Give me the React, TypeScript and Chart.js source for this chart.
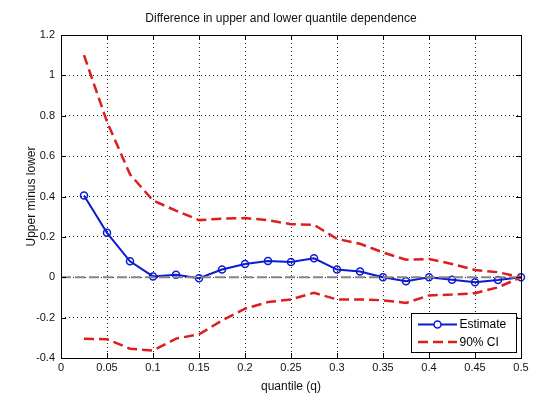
import React, { useEffect, useRef } from "react";
import { Chart, registerables } from "chart.js";

Chart.register(...registerables);

const chartTitle = "Difference in upper and lower quantile dependence";
const xAxisLabel = "quantile (q)";
const yAxisLabel = "Upper minus lower";

const quantiles = [
  0.025, 0.05, 0.075, 0.1, 0.125, 0.15, 0.175, 0.2, 0.225, 0.25,
  0.275, 0.3, 0.325, 0.35, 0.375, 0.4, 0.425, 0.45, 0.475, 0.5,
];
const estimate = [
  0.405, 0.22, 0.079, 0.004, 0.012, -0.005, 0.038, 0.066, 0.081, 0.076,
  0.094, 0.038, 0.028, 0.0, -0.02, 0.0, -0.012, -0.025, -0.014, 0.0,
];
const ciUpper = [
  1.1, 0.77, 0.51, 0.38, 0.33, 0.283, 0.29, 0.293, 0.283, 0.263,
  0.26, 0.19, 0.166, 0.123, 0.087, 0.09, 0.066, 0.036, 0.025, 0.0,
];
const ciLower = [
  -0.305, -0.307, -0.354, -0.363, -0.304, -0.283, -0.214, -0.156, -0.123, -0.11,
  -0.077, -0.11, -0.11, -0.114, -0.127, -0.09, -0.086, -0.079, -0.05, 0.0,
];
const zeroLineX = [0, 0.5];
const zeroLineY = [0, 0];

const xTickValues = [0, 0.05, 0.1, 0.15, 0.2, 0.25, 0.3, 0.35, 0.4, 0.45, 0.5];
const yTickValues = [-0.4, -0.2, 0, 0.2, 0.4, 0.6, 0.8, 1, 1.2];
const legendLabels = ["Estimate", "90% CI"];

const FONT = "'Liberation Sans', Arial, Helvetica, sans-serif";
const BLUE = "#0c1ad2";
const RED = "#dc1e1e";
const GRAY = "#858585";

const pts = (xs: number[], ys: number[]) => xs.map((x, i) => ({ x, y: ys[i] }));

const framePlugin = {
  id: "matlabFrame",
  afterDatasetsDraw(chart: any) {
    const { ctx, chartArea: a, scales } = chart;
    ctx.save();
    ctx.strokeStyle = "#000";
    ctx.lineWidth = 1;
    ctx.setLineDash([]);
    ctx.strokeRect(Math.round(a.left) + 0.5, Math.round(a.top) + 0.5, Math.round(a.right - a.left), Math.round(a.bottom - a.top));
    const tl = 5;
    ctx.beginPath();
    for (const v of xTickValues) {
      const px = Math.round(scales.x.getPixelForValue(v)) + 0.5;
      ctx.moveTo(px, a.bottom);
      ctx.lineTo(px, a.bottom - tl);
      ctx.moveTo(px, a.top);
      ctx.lineTo(px, a.top + tl);
    }
    for (const v of yTickValues) {
      const py = Math.round(scales.y.getPixelForValue(v)) + 0.5;
      ctx.moveTo(a.left, py);
      ctx.lineTo(a.left + tl, py);
      ctx.moveTo(a.right, py);
      ctx.lineTo(a.right - tl, py);
    }
    ctx.stroke();
    ctx.restore();
  },
  afterDraw(chart: any) {
    const { ctx, chartArea: a } = chart;
    ctx.save();
    // title, centred over the axes like MATLAB
    ctx.fillStyle = "#111";
    ctx.font = `12px ${FONT}`;
    ctx.textAlign = "center";
    ctx.textBaseline = "middle";
    ctx.fillText(chartTitle, (a.left + a.right) / 2 - 10, 19);

    const items = legendLabels
      .map((l) => chart.data.datasets.find((d: any) => d.label === l))
      .filter(Boolean);
    const rowH = 17.5;
    const boxW = 105;
    const boxH = 39;
    const bx = Math.round(a.right) - 4.5 - boxW;
    const by = Math.round(a.bottom) - 5.5 - boxH;
    ctx.fillStyle = "#fff";
    ctx.fillRect(bx, by, boxW, boxH);
    ctx.strokeStyle = "#000";
    ctx.lineWidth = 1;
    ctx.setLineDash([]);
    ctx.strokeRect(bx, by, boxW, boxH);
    items.forEach((d: any, i: number) => {
      const cy = by + 11 + i * rowH;
      const x0 = bx + 6.5;
      const x1 = bx + 45.5;
      ctx.strokeStyle = d.borderColor;
      ctx.lineWidth = d.borderWidth;
      ctx.setLineDash(d.borderDash || []);
      ctx.beginPath();
      ctx.moveTo(x0, cy);
      ctx.lineTo(x1, cy);
      ctx.stroke();
      ctx.setLineDash([]);
      if (d.pointRadius > 0) {
        ctx.lineWidth = d.pointBorderWidth;
        ctx.beginPath();
        ctx.arc((x0 + x1) / 2, cy, d.pointRadius, 0, Math.PI * 2);
        ctx.fillStyle = "#fff";
        ctx.fill();
        ctx.stroke();
      }
      ctx.fillStyle = "#000";
      ctx.font = `12px ${FONT}`;
      ctx.textBaseline = "middle";
      ctx.textAlign = "left";
      ctx.fillText(d.label, x1 + 2.5, cy + 0.5);
    });
    ctx.restore();
  },
};

export default function App() {
  const ref = useRef<HTMLCanvasElement | null>(null);

  useEffect(() => {
    if (!ref.current) return;
    const chart = new Chart(ref.current, {
      type: "line",
      data: {
        datasets: [
          {
            label: "",
            data: pts(zeroLineX, zeroLineY),
            borderColor: GRAY,
            borderWidth: 2,
            borderDash: [10, 4],
            pointRadius: 0,
            tension: 0,
          },
          {
            label: "",
            data: pts(quantiles, ciLower),
            borderColor: RED,
            borderWidth: 2.5,
            borderDash: [10, 5],
            pointRadius: 0,
            tension: 0,
          },
          {
            label: legendLabels[1],
            data: pts(quantiles, ciUpper),
            borderColor: RED,
            borderWidth: 2.5,
            borderDash: [10, 5],
            pointRadius: 0,
            tension: 0,
          },
          {
            label: legendLabels[0],
            data: pts(quantiles, estimate),
            borderColor: BLUE,
            borderWidth: 2,
            pointRadius: 3.5,
            pointBorderWidth: 1.5,
            pointBorderColor: BLUE,
            pointBackgroundColor: "rgba(255,255,255,0)",
            tension: 0,
            clip: false as any,
          },
        ] as any,
      },
      options: {
        animation: false,
        responsive: true,
        maintainAspectRatio: false,
        layout: { padding: { left: 0, right: 17, top: 35, bottom: 0 } },
        plugins: {
          legend: { display: false },
          tooltip: { enabled: false },
          title: { display: false },
        },
        scales: {
          x: {
            type: "linear",
            min: 0,
            max: 0.5,
            afterBuildTicks: (s: any) => {
              s.ticks = xTickValues.map((v) => ({ value: v }));
            },
            afterFit: (s: any) => {
              s.height = 39;
            },
            ticks: {
              autoSkip: false,
              maxRotation: 0,
              padding: 3,
              color: "#111",
              font: { family: FONT, size: 11 },
              callback: (v: any) => String(+Number(v).toFixed(2)),
            },
            grid: {
              color: "#222",
              lineWidth: 1,
              drawTicks: false,
            },
            border: { display: false, dash: [1, 3] } as any,
            title: {
              display: true,
              text: xAxisLabel,
              color: "#111",
              font: { family: FONT, size: 12 },
              padding: { top: 0, bottom: 3.3 },
            },
          },
          y: {
            type: "linear",
            min: -0.4,
            max: 1.2,
            afterBuildTicks: (s: any) => {
              s.ticks = yTickValues.map((v) => ({ value: v }));
            },
            afterFit: (s: any) => {
              s.width = 61;
            },
            ticks: {
              autoSkip: false,
              padding: 6,
              color: "#111",
              font: { family: FONT, size: 11 },
              callback: (v: any) => String(+Number(v).toFixed(2)),
            },
            grid: {
              color: "#222",
              lineWidth: 1,
              drawTicks: false,
            },
            border: { display: false, dash: [1, 3] } as any,
            title: {
              display: true,
              text: yAxisLabel,
              color: "#111",
              font: { family: FONT, size: 12 },
              padding: { top: 24.5, bottom: 0 },
            },
          },
        },
      },
      plugins: [framePlugin],
    });
    return () => chart.destroy();
  }, []);

  return (
    <div style={{ position: "fixed", left: 0, top: 0, width: 538, height: 397, background: "#fff" }}>
      <canvas ref={ref} />
    </div>
  );
}
